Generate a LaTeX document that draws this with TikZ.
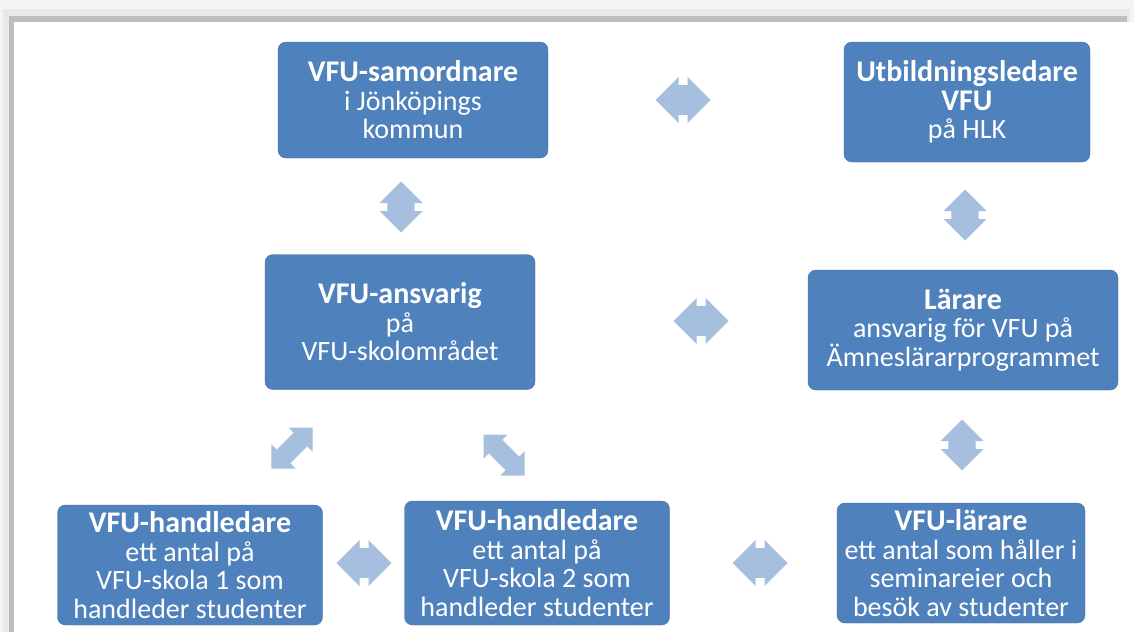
\documentclass[tikz,border=0pt]{standalone}
\usepackage{fontspec}
\setmainfont{Carlito}
\usetikzlibrary{shapes.arrows}
\definecolor{boxblue}{RGB}{79,129,189}
\definecolor{arrowblue}{RGB}{167,191,222}
\definecolor{frameshade}{RGB}{190,190,190}
\newcommand{\boxtitle}[1]{{\fontsize{30}{30}\selectfont\textbf{#1}}}

\begin{document}
\begin{tikzpicture}[x=1pt,y=-1pt,
    box/.style={draw=boxblue!85!black, fill=boxblue, rounded corners=8pt, text=white,
      align=center, inner sep=0pt, font=\fontsize{28}{28.5}\selectfont},
    harrow/.style={double arrow, fill=arrowblue, draw=none, inner xsep=0pt, inner ysep=13pt,
      minimum height=55pt, minimum width=46pt, double arrow tip angle=90},
    varrow/.style={harrow, rotate=90, inner ysep=12pt, minimum height=51pt, minimum width=43pt},
    darrow/.style={harrow, inner ysep=9pt, minimum height=58pt, minimum width=34pt}]
    \useasboundingbox (0,0) rectangle (1134,632);
    % frame shadow
    \fill[gray!8] (0,0) rectangle (1134,632);
    \fill[gray!18] (3,9) rectangle (1130,22);
    \fill[gray!18] (3,9) rectangle (14,632);
    \fill[frameshade] (9,16) rectangle (1127,22);
    \fill[frameshade] (9,16) rectangle (14,632);
    \fill[white] (14,22) rectangle (1134,632);
    % boxes
    \node[box, minimum width=270pt, minimum height=116pt] (samordnare) at (413,100)
      {\boxtitle{VFU-samordnare}\\i Jönköpings\\kommun};
    \node[box, minimum width=246pt, minimum height=120pt] (utbledare) at (967,102)
      {\boxtitle{Utbildningsledare}\\\boxtitle{VFU}\\på HLK};
    \node[box, minimum width=270pt, minimum height=135pt] (ansvarig) at (400,322)
      {\boxtitle{VFU-ansvarig}\\på\\VFU-skolområdet};
    \node[box, minimum width=310pt, minimum height=120pt] (larare) at (963,330)
      {\boxtitle{Lärare}\\ansvarig för VFU på\\Ämneslärarprogrammet};
    \node[box, minimum width=265pt, minimum height=120pt] (handl1) at (190,565)
      {\boxtitle{VFU-handledare}\\ett antal på\\VFU-skola 1 som\\handleder studenter};
    \node[box, minimum width=265pt, minimum height=124pt] (handl2) at (537,563)
      {\boxtitle{VFU-handledare}\\ett antal på\\VFU-skola 2 som\\handleder studenter};
    \node[box, minimum width=248pt, minimum height=120pt] (vfularare) at (961,563)
      {\boxtitle{VFU-lärare}\\ett antal som håller i\\seminareier och\\besök av studenter};
    % arrows
    \node[harrow] (a12) at (683,100) {};
    \node[varrow] (a13) at (401,207) {};
    \node[varrow] (a24) at (965,215) {};
    \node[harrow] (a34) at (701,321) {};
    \node[varrow] (a47) at (962,445) {};
    \node[darrow, rotate=45] (a35) at (292,448) {};
    \node[darrow, rotate=-45] (a36) at (504,455) {};
    \node[harrow] (a56) at (364,563) {};
    \node[harrow] (a67) at (760,563) {};
\end{tikzpicture}
\end{document}
